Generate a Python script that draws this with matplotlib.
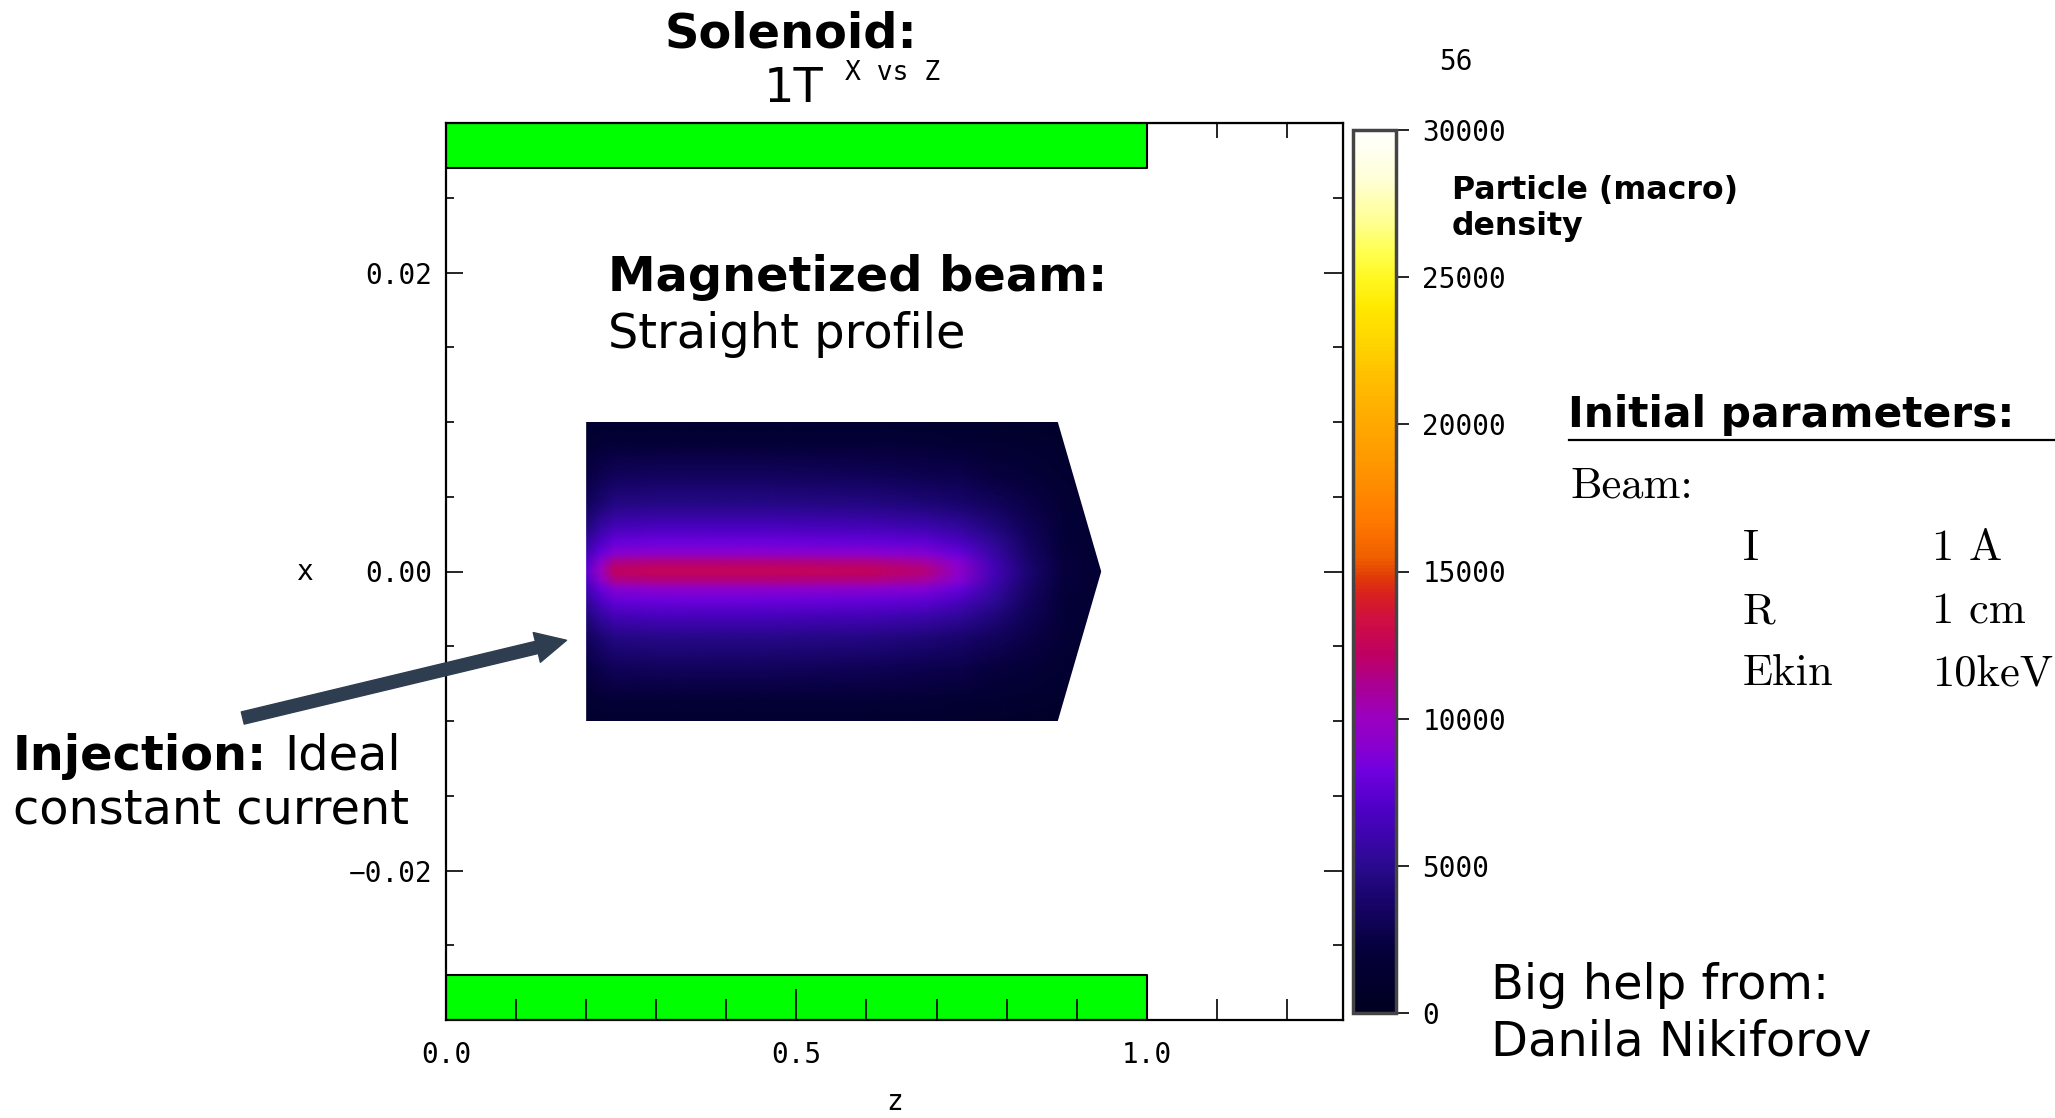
import numpy as np
import matplotlib
matplotlib.use("Agg")
import matplotlib.pyplot as plt
from matplotlib.colors import LinearSegmentedColormap, Normalize
from matplotlib.image import NonUniformImage
from matplotlib.patches import Polygon
from matplotlib.ticker import MultipleLocator, NullFormatter

# colour table (value -> colour)
cmap_values = [0, 2100, 4000, 5000, 7000, 8200, 9000, 10000, 11000, 12200, 13400,
               14200, 14800, 15500, 16700, 18700, 20000, 21700, 23000, 24000,
               25000, 25900, 26900, 28400, 30000]
cmap_colors = ["#000020", "#05003a", "#1a0570", "#2a0a90", "#5000c8", "#7000e0",
               "#8800d0", "#9a00c0", "#a80098", "#c00060", "#d01040", "#d82020",
               "#e03a08", "#f06000", "#ff7800", "#ff9800", "#ffa800", "#ffc000",
               "#ffd800", "#ffe800", "#fff820", "#ffff50", "#ffff90", "#ffffd8",
               "#ffffff"]
cbar_ticks = [0, 5000, 10000, 15000, 20000, 25000, 30000]

# beam density: rows = z positions, cols = |x| positions
beam_z = [0.20, 0.22, 0.24, 0.30, 0.45, 0.60, 0.68, 0.73, 0.78, 0.83, 0.88, 0.94]
beam_x_half = [0.0, 0.0006, 0.0012, 0.002, 0.003, 0.0045, 0.0065, 0.0085, 0.0102]
beam_density_half = [
    [7500, 7100, 6300, 5500, 4400, 3300, 2400, 1600, 1100],
    [10000, 9200, 7900, 6900, 5600, 4100, 2900, 1900, 1200],
    [12300, 11300, 9000, 7800, 6400, 4600, 3200, 2000, 1200],
    [12600, 11500, 9200, 8000, 6600, 4800, 3300, 2100, 1250],
    [12600, 11500, 9200, 8000, 6600, 4800, 3300, 2100, 1250],
    [12500, 11400, 9100, 7800, 6400, 4600, 3100, 2000, 1150],
    [11800, 10800, 8900, 7500, 6000, 4300, 2900, 1900, 1100],
    [9400, 9000, 7900, 6700, 5400, 3900, 2700, 1750, 1000],
    [6500, 6300, 5800, 5200, 4400, 3300, 2300, 1550, 950],
    [4000, 3900, 3700, 3500, 3100, 2600, 2000, 1400, 850],
    [2300, 2300, 2200, 2100, 2000, 1800, 1500, 1150, 750],
    [1500, 1500, 1450, 1400, 1300, 1200, 1000, 850, 650],
]
# outline of the particle cloud (z, x)
beam_outline_z = [0.20, 0.873, 0.935, 0.873, 0.20]
beam_outline_x = [-0.0100, -0.0100, 0.0, 0.0100, 0.0100]

# solenoid coil
coil_z = [0.0, 1.0]
coil_r = [0.027, 0.030]

# arrow (z, x) : tail -> tip
arrow_tail = (-0.29, -0.0098)
arrow_tip = (0.172, -0.0046)

W, H = 2055, 1118


def fx(p):
    return p / W


def fy(p):
    return 1 - p / H


mono = "DejaVu Sans Mono"
small = 20

fig = plt.figure(figsize=(W / 100, H / 100), dpi=100)
ax = fig.add_axes([fx(446), fy(1020), (1343 - 446) / W, (1020 - 123) / H])

cmap = LinearSegmentedColormap.from_list(
    "density", [(v / 30000, c) for v, c in zip(cmap_values, cmap_colors)])
norm = Normalize(0, 30000)

# mirror the half table to full x
xh = np.array(beam_x_half)
x_full = np.concatenate([-xh[::-1], xh[1:]])
dh = np.array(beam_density_half, dtype=float)  # (nz, nx_half)
d_full = np.concatenate([dh[:, ::-1], dh[:, 1:]], axis=1).T  # (nx, nz)

im = NonUniformImage(ax, interpolation="bilinear", cmap=cmap, norm=norm,
                     extent=(min(beam_outline_z), max(beam_outline_z),
                             min(beam_outline_x), max(beam_outline_x)))
im.set_data(np.array(beam_z), x_full, d_full)
ax.add_image(im)
outline = Polygon(np.column_stack([beam_outline_z, beam_outline_x]), closed=True,
                  transform=ax.transData, facecolor="none", edgecolor="none")
ax.add_patch(outline)
im.set_clip_path(outline)

# coil
ax.fill_between(coil_z, coil_r[0], coil_r[1], facecolor="#00ff00",
                edgecolor="black", linewidth=1.5)
ax.fill_between(coil_z, -coil_r[1], -coil_r[0], facecolor="#00ff00",
                edgecolor="black", linewidth=1.5)

ax.set_xlim(0, 1.28)
ax.set_ylim(-0.03, 0.03)
for s in ax.spines.values():
    s.set_linewidth(1.6)

ax.xaxis.set_major_locator(MultipleLocator(0.5))
ax.xaxis.set_minor_locator(MultipleLocator(0.1))
ax.yaxis.set_major_locator(MultipleLocator(0.02))
ax.yaxis.set_minor_locator(MultipleLocator(0.005))
ax.xaxis.set_major_formatter(lambda v, p: f"{v:.1f}")
ax.yaxis.set_major_formatter(lambda v, p: f"{v:.2f}".replace("-", "\u2212"))
ax.tick_params(axis="x", which="major", direction="in", length=22, width=1.2,
               pad=15, labelsize=small, labelfontfamily=mono)
ax.tick_params(axis="x", which="minor", direction="in", length=15, width=1.2)
ax.tick_params(axis="y", which="major", direction="in", length=12, width=1.2,
               pad=10, labelsize=small, labelfontfamily=mono)
ax.tick_params(axis="y", which="minor", direction="in", length=6, width=1.2)

top = ax.secondary_xaxis("top")
top.xaxis.set_major_locator(MultipleLocator(0.5))
top.xaxis.set_minor_locator(MultipleLocator(0.1))
top.xaxis.set_major_formatter(NullFormatter())
top.tick_params(which="major", direction="in", length=18, width=1.2)
top.tick_params(which="minor", direction="in", length=11, width=1.2)

right = ax.secondary_yaxis("right")
right.yaxis.set_major_locator(MultipleLocator(0.02))
right.yaxis.set_minor_locator(MultipleLocator(0.005))
right.yaxis.set_major_formatter(NullFormatter())
right.tick_params(which="major", direction="in", length=14, width=1.2)
right.tick_params(which="minor", direction="in", length=7, width=1.2)

ax.set_xlabel("z", fontsize=small, family=mono, labelpad=14)
ax.set_ylabel("x", fontsize=small, family=mono, rotation=0, labelpad=31, va="center")

# arrow
ax.annotate("", xy=arrow_tip, xytext=arrow_tail, xycoords="data",
            annotation_clip=False,
            arrowprops=dict(arrowstyle="simple,tail_width=0.45,head_width=1.1,head_length=1.1",
                            mutation_scale=20, facecolor="#2e3d4f", edgecolor="#2e3d4f",
                            shrinkA=0, shrinkB=0))

# colour bar
cax = fig.add_axes([fx(1353), fy(1013), (1396 - 1353) / W, (1013 - 130) / H])
cb = fig.colorbar(im, cax=cax, ticks=cbar_ticks)
cb.outline.set_edgecolor("#444444")
cb.outline.set_linewidth(2.5)
cax.tick_params(direction="out", length=9, width=1.2, pad=10, labelsize=small,
                labelfontfamily=mono)
cax.minorticks_off()

# texts
big = 34.5
fig.text(fx(791), fy(47), "Solenoid:", fontsize=big, fontweight="bold",
         ha="center", va="baseline")
fig.text(fx(794), fy(102), "1T", fontsize=big, ha="center", va="baseline")
fig.text(fx(893), fy(80), "X vs Z", fontsize=19, family=mono, ha="center",
         va="baseline")
fig.text(fx(1456), fy(70), "56", fontsize=small, family=mono, ha="center",
         va="baseline")

fig.text(fx(608), fy(291), "Magnetized beam:", fontsize=big, fontweight="bold",
         va="baseline")
fig.text(fx(608), fy(348), "Straight profile", fontsize=big, va="baseline")

fig.text(fx(13), fy(770), "Injection:", fontsize=big, fontweight="bold",
         va="baseline")
fig.text(fx(284), fy(770), "Ideal", fontsize=big, va="baseline")
fig.text(fx(13), fy(823), "constant current", fontsize=big, va="baseline")

fig.text(fx(1452), fy(199), "Particle (macro)", fontsize=22.8, fontweight="bold",
         va="baseline")
fig.text(fx(1452), fy(235), "density", fontsize=22.8, fontweight="bold",
         va="baseline")

fig.text(fx(1568), fy(427), "Initial parameters:", fontsize=30.5,
         fontweight="bold", va="baseline")
fig.add_artist(plt.Line2D([fx(1569), 1.0], [fy(440), fy(440)], color="black",
                          linewidth=1.6, transform=fig.transFigure))

serif = "cmr10"
fig.text(fx(1570), fy(498), "Beam:", fontsize=32, family=serif, va="baseline")
param_names = ["I", "R", "Ekin"]
param_values = ["1 A", "1 cm", "10keV"]
param_rows = [560, 623, 685]
for name, val, row in zip(param_names, param_values, param_rows):
    fig.text(fx(1743), fy(row), name, fontsize=32, family=serif, va="baseline")
    fig.text(fx(1932), fy(row), val, fontsize=32, family=serif, va="baseline")

fig.text(fx(1491), fy(999), "Big help from:", fontsize=big, va="baseline")
fig.text(fx(1491), fy(1055), "Danila Nikiforov", fontsize=big, va="baseline")

fig.savefig("out.png", dpi=100)
